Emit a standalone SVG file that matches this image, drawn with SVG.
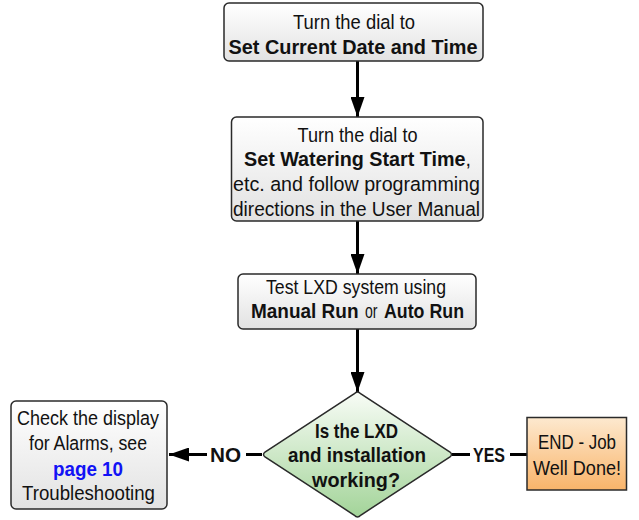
<svg xmlns="http://www.w3.org/2000/svg" width="639" height="520" viewBox="0 0 639 520">
<style>
  .box { stroke: #2a2a2a; stroke-width: 1.5; fill: url(#gray); }
  .t { font-family: "Liberation Sans", Arial, sans-serif; font-size: 20.5px; fill: #111; text-anchor: middle; }
  .s { text-anchor: start; }
  .b { font-weight: bold; }
  .con { stroke: #000; stroke-width: 3; fill: none; }
  .lbl { font-family: "Liberation Sans", Arial, sans-serif; font-size: 20px; font-weight: bold; fill: #111; text-anchor: middle; }
</style>
<defs>
  <linearGradient id="gray" x1="0" y1="0" x2="0" y2="1">
    <stop offset="0" stop-color="#ffffff"/>
    <stop offset="1" stop-color="#e2e2e2"/>
  </linearGradient>
  <linearGradient id="green" x1="0" y1="0" x2="0" y2="1">
    <stop offset="0" stop-color="#f8fcf6"/>
    <stop offset="1" stop-color="#a3d499"/>
  </linearGradient>
  <linearGradient id="orange" x1="0" y1="0" x2="0" y2="1">
    <stop offset="0" stop-color="#fde9cf"/>
    <stop offset="1" stop-color="#f9b46a"/>
  </linearGradient>
  <marker id="arrow" markerUnits="userSpaceOnUse" markerWidth="20" markerHeight="14" refX="20" refY="7" orient="auto">
    <path d="M0,0 L20,7 L0,14 z" fill="#000"/>
  </marker>
</defs>

<g id="connectors">
  <line class="con" x1="357.5" y1="61" x2="357.5" y2="117" marker-end="url(#arrow)"/>
  <line class="con" x1="357.5" y1="221" x2="357.5" y2="274" marker-end="url(#arrow)"/>
  <line class="con" x1="357.5" y1="329" x2="357.5" y2="392" marker-end="url(#arrow)"/>
  <line class="con" x1="262" y1="454.5" x2="246" y2="454.5"/>
  <line class="con" x1="207" y1="454.5" x2="169" y2="454.5" marker-end="url(#arrow)"/>
  <line class="con" x1="452" y1="454.5" x2="470" y2="454.5"/>
  <line class="con" x1="510" y1="454.5" x2="527" y2="454.5"/>
  <text class="lbl" x="225.5" y="461.5" textLength="31" lengthAdjust="spacingAndGlyphs">NO</text>
  <text class="lbl" x="489" y="461.5" textLength="32" lengthAdjust="spacingAndGlyphs">YES</text>
</g>

<g id="n1">
  <rect class="box" x="224" y="3" width="259" height="58" rx="5"/>
  <text class="t" x="354" y="29" textLength="122" lengthAdjust="spacingAndGlyphs">Turn the dial to</text>
  <text class="t b" x="353" y="54" textLength="249" lengthAdjust="spacingAndGlyphs">Set Current Date and Time</text>
</g>

<g id="n2">
  <rect class="box" x="231.5" y="117" width="251.5" height="104" rx="5"/>
  <text class="t" x="357.5" y="142" textLength="120" lengthAdjust="spacingAndGlyphs">Turn the dial to</text>
  <text class="t" x="357.5" y="166" textLength="227" lengthAdjust="spacingAndGlyphs"><tspan class="b">Set Watering Start Time</tspan>,</text>
  <text class="t" x="356.5" y="191" textLength="247" lengthAdjust="spacingAndGlyphs">etc. and follow programming</text>
  <text class="t" x="356.5" y="216" textLength="247" lengthAdjust="spacingAndGlyphs">directions in the User Manual</text>
</g>

<g id="n3">
  <rect class="box" x="238" y="274" width="238" height="55" rx="5"/>
  <text class="t" x="356" y="294" textLength="180" lengthAdjust="spacingAndGlyphs">Test LXD system using</text>
  <text class="t s b" x="251" y="318" textLength="107.5" lengthAdjust="spacingAndGlyphs">Manual Run</text>
  <text class="t s" x="365" y="318" textLength="12.5" lengthAdjust="spacingAndGlyphs">or</text>
  <text class="t s b" x="384" y="318" textLength="80" lengthAdjust="spacingAndGlyphs">Auto Run</text>
</g>

<g id="n4">
  <path d="M357.5,392 Q359,392 361,394 L450,452 Q453,454.5 450,457 L361,515 Q359,517 357.5,517 Q356,517 354,515 L265,457 Q262,454.5 265,452 L354,394 Q356,392 357.5,392 Z" fill="url(#green)" stroke="#2a2a2a" stroke-width="1.5"/>
  <text class="t b" x="356.5" y="438" textLength="83" lengthAdjust="spacingAndGlyphs">Is the LXD</text>
  <text class="t b" x="357" y="462" textLength="138" lengthAdjust="spacingAndGlyphs">and installation</text>
  <text class="t b" x="356" y="487" textLength="88" lengthAdjust="spacingAndGlyphs">working?</text>
</g>

<g id="n5">
  <rect class="box" x="11" y="401" width="156" height="108" rx="5"/>
  <text class="t" x="88" y="425" textLength="142" lengthAdjust="spacingAndGlyphs">Check the display</text>
  <text class="t" x="88" y="450" textLength="118" lengthAdjust="spacingAndGlyphs">for Alarms, see</text>
  <text class="t b" x="88" y="476" style="fill:#1212f5" textLength="70" lengthAdjust="spacingAndGlyphs">page 10</text>
  <text class="t" x="88.5" y="500" textLength="133" lengthAdjust="spacingAndGlyphs">Troubleshooting</text>
</g>

<g id="n6">
  <rect x="527" y="417.5" width="99.5" height="72.5" fill="url(#orange)" stroke="#2a2a2a" stroke-width="1.5"/>
  <text class="t" x="577" y="449" textLength="78" lengthAdjust="spacingAndGlyphs">END - Job</text>
  <text class="t" x="577" y="475" textLength="88" lengthAdjust="spacingAndGlyphs">Well Done!</text>
</g>
</svg>
